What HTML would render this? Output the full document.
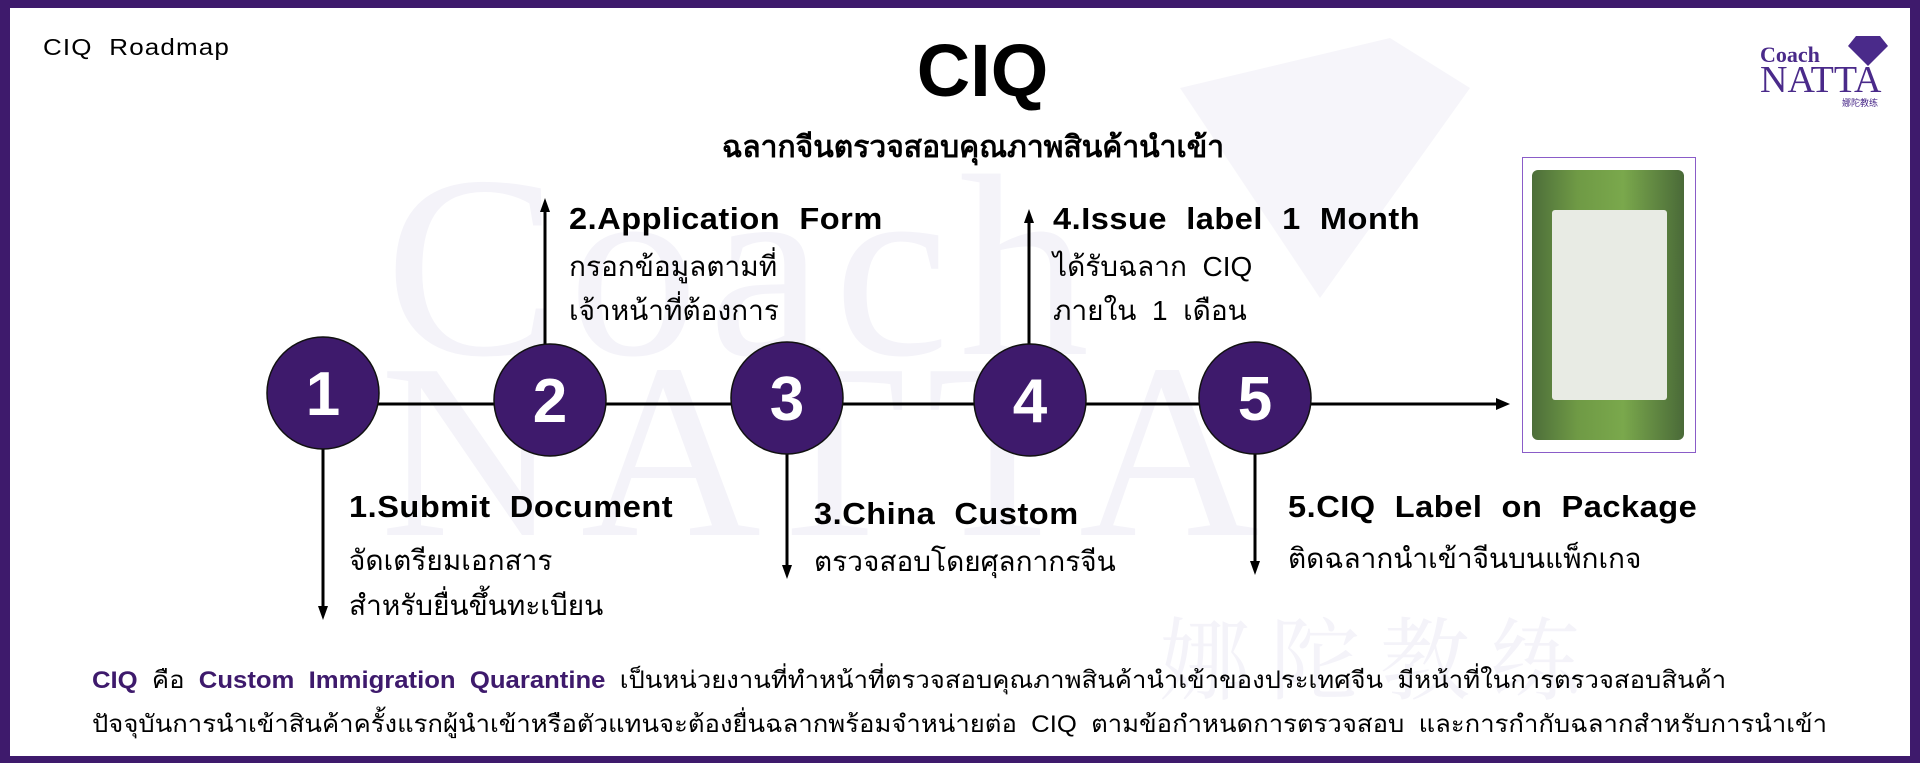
<!DOCTYPE html>
<html><head><meta charset="utf-8"><style>
*{margin:0;padding:0;box-sizing:border-box}
body{width:1920px;height:763px;background:#3e1a6c;position:relative;overflow:hidden;font-family:"Liberation Sans","DejaVu Sans",sans-serif}
#page{position:absolute;left:10px;top:8px;width:1900px;height:748px;background:#fff;overflow:hidden}
.t{position:absolute;white-space:nowrap;color:#000}
.wm{position:absolute;font-family:"Liberation Serif",serif;color:#f4f3f9;white-space:nowrap}
.h{font-weight:bold;font-size:31px;letter-spacing:0.5px;transform:scaleX(1.05);transform-origin:left}
.th{font-size:28px;transform:scaleX(1.0);transform-origin:left}
</style></head><body>
<div id="page">
<div class="wm" style="left:375px;top:110px;font-size:260px;letter-spacing:10px">Coach</div>
<div class="wm" style="left:370px;top:300px;font-size:250px;letter-spacing:20px">NATTA</div>
<div class="wm" style="left:1150px;top:580px;font-size:90px;font-family:'Noto Serif CJK SC',serif;letter-spacing:20px">娜陀教练</div>
<svg style="position:absolute;left:0;top:0" width="1900" height="748">
<polygon points="1170,80 1380,30 1460,80 1310,290" fill="#f6f5fa"/>
<g stroke="#000" stroke-width="3" fill="none">
<line x1="313" y1="396" x2="1490" y2="396"/>
<line x1="535" y1="392" x2="535" y2="200"/>
<line x1="1019" y1="392" x2="1019" y2="212"/>
<line x1="313" y1="400" x2="313" y2="600"/>
<line x1="777" y1="400" x2="777" y2="560"/>
<line x1="1245" y1="400" x2="1245" y2="556"/>
</g>
<g fill="#000">
<polygon points="1500,396 1486,390 1486,402"/>
<polygon points="535,190 530,204 540,204"/>
<polygon points="1019,201 1014,215 1024,215"/>
<polygon points="313,612 308,598 318,598"/>
<polygon points="777,571 772,557 782,557"/>
<polygon points="1245,567 1240,553 1250,553"/>
</g>
<g fill="#3e1a6c" stroke="#111" stroke-width="1.5">
<circle cx="313" cy="385" r="56"/><circle cx="540" cy="392" r="56"/><circle cx="777" cy="390" r="56"/><circle cx="1020" cy="392" r="56"/><circle cx="1245" cy="390" r="56"/>
</g>
<g fill="#fff" font-family="Liberation Sans" font-weight="bold" font-size="62" text-anchor="middle">
<text x="313" y="407">1</text><text x="540" y="414">2</text><text x="777" y="412">3</text><text x="1020" y="414">4</text><text x="1245" y="412">5</text>
</g>
<g fill="#4a2a8a">
<polygon points="1846,28 1870,28 1878,38 1858,58 1838,38"/>
</g>
</svg>
<div class="t" style="left:33px;top:26px;font-size:23px;letter-spacing:1px;transform:scaleX(1.13);transform-origin:left">CIQ&nbsp; Roadmap</div>
<div class="t" style="left:0;width:1945px;text-align:center;top:20px;font-size:74px;font-weight:bold">CIQ</div>
<div class="t" style="left:0;width:1926px;text-align:center;top:116px;font-size:30px;font-weight:bold">ฉลากจีนตรวจสอบคุณภาพสินค้านำเข้า</div>
<div class="t h" style="left:559px;top:193px">2.Application&nbsp; Form</div>
<div class="t th" style="left:559px;top:237px">กรอกข้อมูลตามที่</div>
<div class="t th" style="left:559px;top:281px">เจ้าหน้าที่ต้องการ</div>
<div class="t h" style="left:1043px;top:193px">4.Issue&nbsp; label&nbsp; 1&nbsp; Month</div>
<div class="t th" style="left:1043px;top:237px">ได้รับฉลาก&nbsp; CIQ</div>
<div class="t th" style="left:1043px;top:281px">ภายใน&nbsp; 1&nbsp; เดือน</div>
<div class="t h" style="left:339px;top:481px">1.Submit&nbsp; Document</div>
<div class="t th" style="left:339px;top:531px">จัดเตรียมเอกสาร</div>
<div class="t th" style="left:339px;top:576px">สำหรับยื่นขึ้นทะเบียน</div>
<div class="t h" style="left:804px;top:488px">3.China&nbsp; Custom</div>
<div class="t th" style="left:804px;top:532px">ตรวจสอบโดยศุลกากรจีน</div>
<div class="t h" style="left:1278px;top:481px">5.CIQ&nbsp; Label&nbsp; on&nbsp; Package</div>
<div class="t th" style="left:1278px;top:529px">ติดฉลากนำเข้าจีนบนแพ็กเกจ</div>
<div style="position:absolute;left:1512px;top:149px;width:174px;height:296px;border:1.5px solid #8a5cc8;background:#fff">
<div style="position:absolute;left:9px;top:12px;width:152px;height:270px;background:linear-gradient(90deg,#4d6e3a,#6f9a45 30%,#7aa84c 60%,#4a6a38);border-radius:6px">
<div style="position:absolute;left:20px;top:40px;width:115px;height:190px;background:#e8ebe4;border-radius:3px"></div>
</div></div>
<div class="t" style="left:1750px;top:34px;font-family:'Liberation Serif',serif;font-size:22px;color:#4a2a8a;font-weight:bold">Coach</div>
<div class="t" style="left:1750px;top:50px;font-family:'Liberation Serif',serif;font-size:38px;color:#4a2a8a">NATTA</div>
<div class="t" style="left:1832px;top:88px;font-size:9px;color:#4a2a8a;font-family:'Noto Sans CJK SC',sans-serif">娜陀教练</div>
<div class="t" style="left:82px;top:652px;font-size:24px;transform:scaleX(1.07);transform-origin:left"><b style="color:#3e1a6c">CIQ</b>&nbsp; คือ&nbsp; <b style="color:#3e1a6c">Custom&nbsp; Immigration&nbsp; Quarantine</b>&nbsp; เป็นหน่วยงานที่ทำหน้าที่ตรวจสอบคุณภาพสินค้านำเข้าของประเทศจีน&nbsp; มีหน้าที่ในการตรวจสอบสินค้า</div>
<div class="t" style="left:82px;top:696px;font-size:24px;transform:scaleX(1.07);transform-origin:left">ปัจจุบันการนำเข้าสินค้าครั้งแรกผู้นำเข้าหรือตัวแทนจะต้องยื่นฉลากพร้อมจำหน่ายต่อ&nbsp; CIQ&nbsp; ตามข้อกำหนดการตรวจสอบ&nbsp; และการกำกับฉลากสำหรับการนำเข้า</div>
</div>
</body></html>
